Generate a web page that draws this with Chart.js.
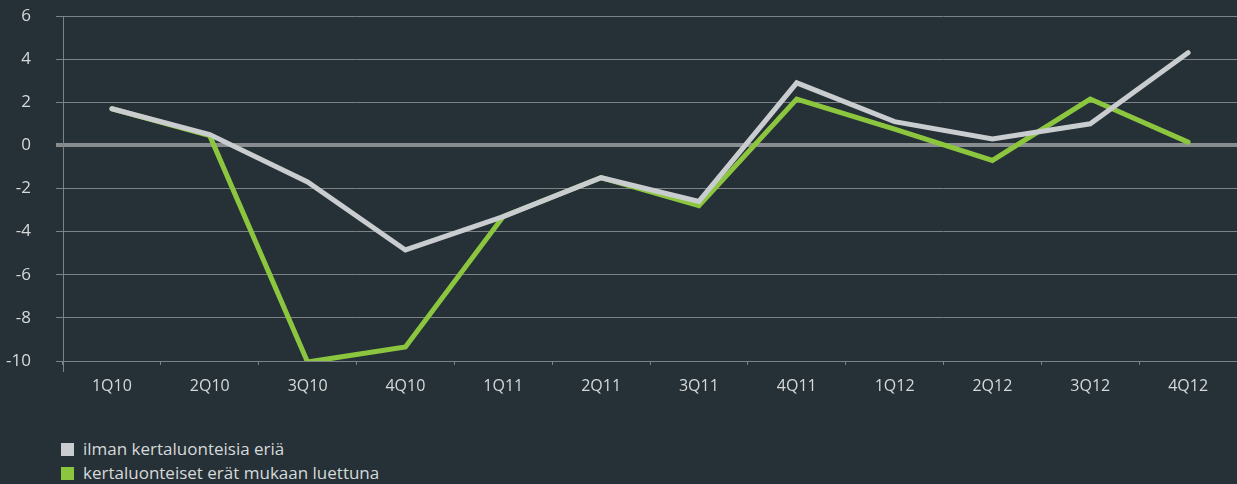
<!DOCTYPE html>
<html>
<head>
<meta charset="utf-8">
<script src="https://cdn.jsdelivr.net/npm/chart.js@4/dist/chart.umd.min.js"></script>
<style>
  html, body { margin: 0; padding: 0; background: #263137; width: 1237px; height: 484px; overflow: hidden; }
  #wrap { position: absolute; left: 0; top: 0; width: 1237px; height: 400px; }
  #legend { position: absolute; left: 61px; top: 439px; font-family: "Open Sans", sans-serif; font-size: 17px; color: #d6d9da; }
  .item { height: 24px; line-height: 20px; white-space: nowrap; }
  .sw { display: inline-block; width: 13px; height: 13px; vertical-align: -1px; margin-right: 9px; }
</style>
</head>
<body>
<div id="wrap"><canvas id="c" width="1237" height="400"></canvas></div>
<div id="legend"></div>
<script>
const categories = ["1Q10","2Q10","3Q10","4Q10","1Q11","2Q11","3Q11","4Q11","1Q12","2Q12","3Q12","4Q12"];
const seriesNames = ["ilman kertaluonteisia eriä", "kertaluonteiset erät mukaan luettuna"];
const withoutOneOff = [1.7, 0.5, -1.7, -4.85, -3.3, -1.5, -2.6, 2.9, 1.1, 0.3, 1.0, 4.3];
const withOneOff = [1.7, 0.45, -10.05, -9.35, -3.3, -1.5, -2.8, 2.15, 0.75, -0.7, 2.15, 0.15];
const yTicks = [-10, -8, -6, -4, -2, 0, 2, 4, 6];
const colors = ["#c9cdcf", "#8cc63f"];

const FONT = '"Open Sans", sans-serif';
const TXT = '#d6d9da';

const axisExt = {
  id: 'axisExt',
  beforeDatasetsDraw(chart) {
    const { ctx, chartArea } = chart;
    ctx.save();
    ctx.strokeStyle = '#7d8285';
    ctx.lineWidth = 1;
    ctx.beginPath();
    ctx.moveTo(chartArea.left + 0.5, chartArea.top);
    ctx.lineTo(chartArea.left + 0.5, chartArea.bottom + 11);
    ctx.stroke();
    ctx.restore();
  }
};

const chart = new Chart(document.getElementById('c'), {
  type: 'line',
  data: {
    labels: categories,
    datasets: [
      { label: seriesNames[0], data: withoutOneOff, borderColor: colors[0], backgroundColor: colors[0], borderWidth: 5, pointRadius: 0, tension: 0, borderCapStyle: 'round', borderJoinStyle: 'miter' },
      { label: seriesNames[1], data: withOneOff, borderColor: colors[1], backgroundColor: colors[1], borderWidth: 5, pointRadius: 0, tension: 0, borderCapStyle: 'round', borderJoinStyle: 'miter' }
    ]
  },
  options: {
    responsive: false,
    animation: false,
    layout: { padding: { top: 16, right: 0, bottom: 0, left: 0 } },
    plugins: { legend: { display: false }, tooltip: { enabled: false } },
    scales: {
      x: {
        offset: true,
        grid: { offset: true, drawOnChartArea: false, color: '#7d8285', tickLength: 4, tickWidth: 1 },
        border: { display: false },
        ticks: { color: TXT, font: { family: FONT, size: 16 }, padding: 12, maxRotation: 0, autoSkip: false },
        afterFit(s) { s.height = 39; }
      },
      y: {
        min: -10, max: 6,
        afterBuildTicks(s) { s.ticks = yTicks.map(v => ({ value: v })); },
        grid: {
          color: (c) => c.tick && c.tick.value === 0 ? '#888c8f' : '#7d8285',
          lineWidth: (c) => c.tick && c.tick.value === 0 ? 4 : 1,
          tickLength: 7
        },
        border: { display: false },
        ticks: { color: TXT, font: { family: FONT, size: 17 }, padding: 25 },
        afterFit(s) { s.width = 63; s.paddingTop = 10; s.paddingBottom = 10; }
      }
    }
  },
  plugins: [axisExt]
});

const lg = document.getElementById('legend');
seriesNames.forEach((n, i) => {
  const d = document.createElement('div');
  d.className = 'item';
  const sw = document.createElement('span');
  sw.className = 'sw';
  sw.style.background = colors[i];
  d.appendChild(sw);
  d.appendChild(document.createTextNode(n));
  lg.appendChild(d);
});
</script>
</body>
</html>
